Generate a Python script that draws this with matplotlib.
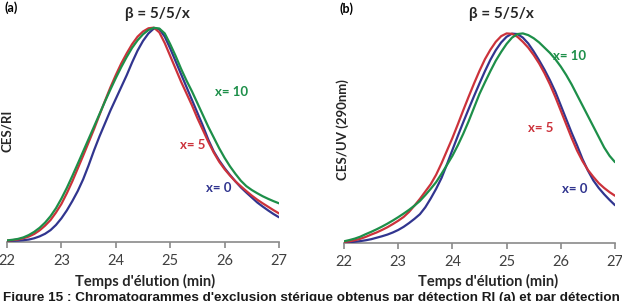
import numpy as np
import matplotlib
matplotlib.use("Agg")
import matplotlib.pyplot as plt

# ================= données =================
temps = [22.0, 22.1, 22.2, 22.3, 22.4, 22.5, 22.6, 22.7, 22.8, 22.9,
         23.0, 23.1, 23.2, 23.3, 23.4, 23.5, 23.6, 23.7, 23.8, 23.9,
         24.0, 24.1, 24.2, 24.3, 24.4, 24.5, 24.6, 24.7, 24.8, 24.9,
         25.0, 25.1, 25.2, 25.3, 25.4, 25.5, 25.6, 25.7, 25.8, 25.9,
         26.0, 26.1, 26.2, 26.3, 26.4, 26.5, 26.6, 26.7, 26.8, 26.9, 27.0]

# (a) détection RI
ri_x0 = [.002, .003, .004, .006, .009, .015, .024, .036, .053, .077,
         .108, .145, .188, .235, .29, .355, .425, .49, .55, .61,
         .665, .72, .775, .835, .89, .935, .97, .993, .99, .955,
         .90, .84, .78, .72, .66, .60, .54, .475, .42, .378,
         .342, .31, .28, .252, .228, .205, .182, .163, .145, .128, .113]
ri_x5 = [.004, .006, .009, .015, .023, .035, .052, .074, .10, .135,
         .175, .225, .28, .34, .40, .462, .524, .59, .655, .718,
         .776, .83, .877, .92, .955, .979, .994, .997, .975, .925,
         .865, .805, .745, .69, .635, .575, .52, .465, .415, .372,
         .337, .307, .28, .257, .235, .214, .195, .178, .162, .146, .131]
ri_x10 = [.005, .008, .012, .019, .03, .045, .064, .088, .118, .155,
          .20, .25, .305, .362, .42, .478, .536, .594, .652, .708,
          .762, .813, .86, .903, .938, .966, .986, .996, .993, .97,
          .92, .865, .805, .75, .70, .645, .59, .535, .485, .435,
          .39, .35, .315, .283, .258, .24, .225, .211, .199, .188, .178]

# (b) détection UV 290 nm
uv_x0 = [.003, .004, .006, .009, .013, .018, .025, .032, .04, .05,
         .062, .077, .095, .115, .137, .17, .212, .258, .31, .375,
         .443, .51, .575, .638, .70, .76, .818, .872, .918, .955,
         .982, .997, .995, .978, .95, .912, .87, .825, .775, .72,
         .655, .59, .525, .465, .40, .345, .298, .262, .232, .205, .18]
uv_x5 = [.005, .008, .013, .02, .029, .04, .05, .062, .075, .09,
         .106, .124, .148, .178, .21, .245, .28, .325, .38, .44,
         .50, .565, .632, .697, .76, .82, .875, .92, .958, .985,
         .998, .996, .982, .958, .93, .895, .855, .808, .755, .695,
         .63, .565, .50, .44, .39, .348, .315, .285, .262, .242, .225]
uv_x10 = [.008, .014, .021, .03, .042, .053, .065, .078, .092, .107,
          .123, .14, .158, .178, .20, .228, .258, .29, .33, .372,
          .415, .465, .52, .58, .645, .71, .765, .818, .868, .91,
          .948, .978, .995, .998, .99, .975, .955, .93, .905, .875,
          .84, .80, .755, .705, .655, .605, .555, .505, .455, .415, .385]

ticks = [22, 23, 24, 25, 26, 27]
noms = ["x= 0", "x= 5", "x= 10"]

# ================= style =================
BLEU = "#31358f"
ROUGE = "#cc323b"
VERT = "#1d8f49"
couleurs = [BLEU, ROUGE, VERT]
FONTE = ["Lato", "DejaVu Sans"]

W, H = 622, 301
fig = plt.figure(figsize=(W / 100, H / 100), dpi=100)


def px(x, y):
    return x / W, 1 - y / H


def draw_panel(rect, series, pos_noms):
    ax = fig.add_axes(rect)
    for s, c in zip(series, couleurs):
        ax.plot(temps, s, color=c, lw=1.6, solid_capstyle="round", zorder=3)
    ax.set_xlim(22, 27)
    ax.set_ylim(0, 1.05)
    for sp in ["top", "right", "left"]:
        ax.spines[sp].set_visible(False)
    ax.spines["bottom"].set_color("#8a8a8a")
    ax.spines["bottom"].set_linewidth(1.2)
    ax.set_yticks([])
    ax.set_xticks(ticks)
    ax.set_xticklabels([str(t) for t in ticks], family=FONTE, fontsize=10.5, color="#404040")
    ax.tick_params(axis="x", direction="out", length=4, width=1.2, color="#8a8a8a", pad=5)
    for nom, c, (tx, ty) in zip(noms, couleurs, pos_noms):
        ax.text(tx, ty, nom, color=c, fontsize=9.5, fontweight="bold", family=FONTE,
                ha="center", va="center")
    ax.patch.set_alpha(0)
    return ax


# panneau (a)
l, b = px(7, 241.5)
draw_panel([l, b, 272 / W, 214.5 * 1.05 / H], [ri_x0, ri_x5, ri_x10],
           [(25.90, 0.249), (25.42, 0.45), (26.12, 0.697)])
# panneau (b)
l, b = px(344, 243)
draw_panel([l, b, 271 / W, 210 * 1.05 / H], [uv_x0, uv_x5, uv_x10],
           [(26.26, 0.257), (25.62, 0.548), (26.17, 0.89)])

# textes
for x, y, s in [(11, 8, "(a)"), (347, 9, "(b)")]:
    fig.text(*px(x, y), s, fontsize=9, fontweight="bold", family=FONTE, ha="center", va="center")
for x in [157, 501]:
    fig.text(*px(x, 14), "β = 5/5/x", fontsize=11, fontweight="bold", family=FONTE,
             ha="center", va="center", color="#262626")
fig.text(*px(7, 131), "CES/RI", rotation=90, fontsize=9.5, fontweight="bold", family=FONTE,
         ha="center", va="center", color="#262626")
fig.text(*px(343, 130), "CES/UV (290nm)", rotation=90, fontsize=9.5, fontweight="bold",
         family=FONTE, ha="center", va="center", color="#262626")
for x, y in [(145, 281), (488, 281)]:
    fig.text(*px(x, y), "Temps d'élution (min)", fontsize=10.5, fontweight="bold", family=FONTE,
             ha="center", va="center", color="#262626")
# légende de figure, coupée en bas comme sur l'original
fig.text(*px(3, 301), "Figure 15 : Chromatogrammes d'exclusion stérique obtenus par détection RI (a) et par détection",
         fontsize=9.7, fontweight="bold", family=["Liberation Sans", "DejaVu Sans"],
         ha="left", va="baseline", color="#1a1a1a")

fig.savefig("out.png", dpi=100)
